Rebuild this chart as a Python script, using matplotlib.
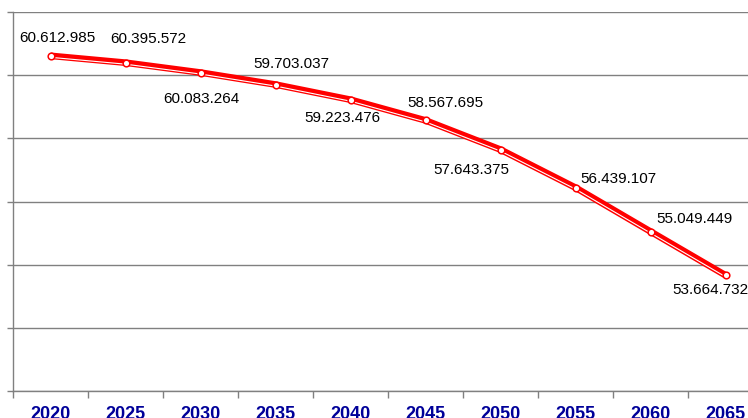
import matplotlib
matplotlib.use("Agg")
import matplotlib.pyplot as plt
import matplotlib.transforms as mtransforms

years = ["2020", "2025", "2030", "2035", "2040", "2045", "2050", "2055", "2060", "2065"]
population = [60612985, 60395572, 60083264, 59703037, 59223476, 58567695,
              57643375, 56439107, 55049449, 53664732]
labels = ["60.612.985", "60.395.572", "60.083.264", "59.703.037", "59.223.476",
          "58.567.695", "57.643.375", "56.439.107", "55.049.449", "53.664.732"]
# label offsets in pixels (dx, dy) relative to point
offsets = [(7, 18), (23, 24), (1, -26), (16, 21), (-8, -18), (20, 17),
           (-29, -20), (43, 9), (44, 13), (-15, -15)]

plt.rcParams['font.family'] = ['Liberation Sans', 'DejaVu Sans']
W, H = 748, 418
fig = plt.figure(figsize=(W / 100, H / 100), dpi=100)
ax = fig.add_axes([13 / W, (H - 391) / H, 750 / W, 379 / H])

x = list(range(len(years)))
y = [v / 1e6 for v in population]

ax.plot(x, y, color='#ff0000', lw=4.8, solid_capstyle='butt', zorder=3)
tr = mtransforms.offset_copy(ax.transData, fig=fig, x=0, y=-1.5, units='dots')
ax.plot(x, y, color='white', lw=0.8, transform=tr, zorder=4)
ax.plot(x, y, linestyle='none', marker='o', markersize=4.8, markerfacecolor='white',
        markeredgecolor='#ff0000', markeredgewidth=1.1, zorder=5)

for xi, yi, lab, (dx, dy) in zip(x, y, labels, offsets):
    ax.annotate(lab, (xi, yi), xytext=(dx, dy), textcoords='offset pixels',
                ha='center', va='center', fontsize=11, color='#000000', zorder=6,
                annotation_clip=False)

ax.set_xlim(-0.5, len(years) - 0.5)
ax.set_ylim(50, 62)
ax.set_yticks([50, 52, 54, 56, 58, 60, 62])
ax.set_yticklabels([])
ax.grid(axis='y', color='#808080', lw=1)
ax.set_axisbelow(True)

ax.set_xticks(x)
ax.set_xticklabels(years, fontsize=13, fontweight='bold', color='#000099')
ax.tick_params(axis='x', which='major', length=0, pad=11)
ax.set_xticks([i - 0.5 for i in range(len(years) + 1)], minor=True)
ax.tick_params(axis='x', which='minor', length=5, color='#808080', width=1)
ax.tick_params(axis='y', length=4, color='#808080', width=1)

for s in ['top', 'right']:
    ax.spines[s].set_visible(False)
for s in ['left', 'bottom']:
    ax.spines[s].set_color('#808080')
    ax.spines[s].set_linewidth(1)

fig.savefig('out.png', dpi=100)
